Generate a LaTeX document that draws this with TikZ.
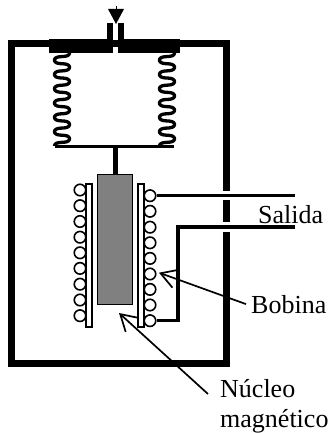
\documentclass[tikz,border=0pt]{standalone}
\usepackage{fontspec}
\setmainfont{Liberation Serif}
\usetikzlibrary{arrows.meta}
\tikzset{
  frameline/.style={line width=7pt},
  springline/.style={line width=3.3pt},
  wire/.style={line width=3.5pt},
  pointer/.style={line width=1.7pt,-{Straight Barb[length=16pt,width=19pt]}},
  turn/.style={circle,draw,fill=white,line width=1.6pt,minimum size=11.5pt,inner sep=0pt},
  tube/.style={rectangle,draw,fill=white,line width=1.2pt,minimum width=6pt,minimum height=143pt,inner sep=0pt},
  core/.style={rectangle,draw,fill=black!50,line width=1.6pt,minimum width=35pt,minimum height=130pt,inner sep=0pt},
  tag/.style={inner sep=0pt,anchor=base west,font=\fontsize{26}{30}\selectfont}
}
\begin{document}
\begin{tikzpicture}[x=1pt,y=-1pt]
  \useasboundingbox (0,0) rectangle (333,433);

  \draw[frameline] (11,43.5) rectangle (226.5,363);
  \fill[white] (220,191) rectangle (233,200);
  \fill[white] (220,222) rectangle (233,232);

  \fill (49,39) rectangle (113,53);
  \fill (118,39) rectangle (180,53);
  \fill (107,23) rectangle (113,53);
  \fill (118,23) rectangle (124,53);
  \fill (108,9) -- (124,9) -- (116,24) -- cycle;
  \draw[line width=1pt] (116,6) -- (116,9);

  \draw[springline] plot[domain=0:2340,samples=260,smooth] ({62+7.5*cos(\x)},{53+0.03972*\x+0.91*sin(2*\x)});
  \draw[springline] plot[domain=0:2340,samples=260,smooth] ({167+7.5*cos(\x)},{53+0.03972*\x+0.91*sin(2*\x)});
  \draw[line width=2.2pt] (55,146.5) -- (174,146.5);

  \node[core] (core) at (115,239.5) {};
  \coordinate (rod) at (115.7,146);
  \draw[line width=5.5pt] (rod) -- (rod |- core.north);

  \coordinate (nucleoTip) at (119,313);
  \coordinate (nucleoEnd) at (208,394);
  \draw[pointer] (nucleoEnd) -- (nucleoTip);

  \node[tube] (tubeL) at (89,255.5) {};
  \node[tube] (tubeR) at (141,255.5) {};

  \node[turn] (l1) at (80,190) {};
  \node[turn] (l2) at (80,205.7) {};
  \node[turn] (l3) at (80,221.5) {};
  \node[turn] (l4) at (80,237.2) {};
  \node[turn] (l5) at (80,252.8) {};
  \node[turn] (l6) at (80,268.4) {};
  \node[turn] (l7) at (80,284.2) {};
  \node[turn] (l8) at (80,300) {};
  \node[turn] (l9) at (80,315.7) {};

  \node[turn] (r1) at (150,195.7) {};
  \node[turn] (r2) at (150,211.3) {};
  \node[turn] (r3) at (150,227.2) {};
  \node[turn] (r4) at (150,242.8) {};
  \node[turn] (r5) at (150,258.4) {};
  \node[turn] (r6) at (150,274) {};
  \node[turn] (r7) at (150,289.4) {};
  \node[turn] (r8) at (150,305) {};
  \node[turn] (r9) at (150,320.7) {};

  \coordinate (salidaA) at (295,195.7);
  \coordinate (salidaB) at (295,227);
  \coordinate (bend) at (178,227);
  \draw[wire] (r1) -- (salidaA);
  \draw[wire] (r9) -| (bend) -- (salidaB);

  \node[tag] (salida) at (258,223) {Salida};
  \node[tag] (bobina) at (251,313) {Bobina};
  \node[tag] (nucleo) at (220,397) {Núcleo};
  \node[tag] (magnetico) at (220,427) {magnético};

  \coordinate (bobinaTip) at (159,272.7);
  \draw[pointer] ([xshift=-5pt]bobina.west) -- (bobinaTip);
\end{tikzpicture}
\end{document}
